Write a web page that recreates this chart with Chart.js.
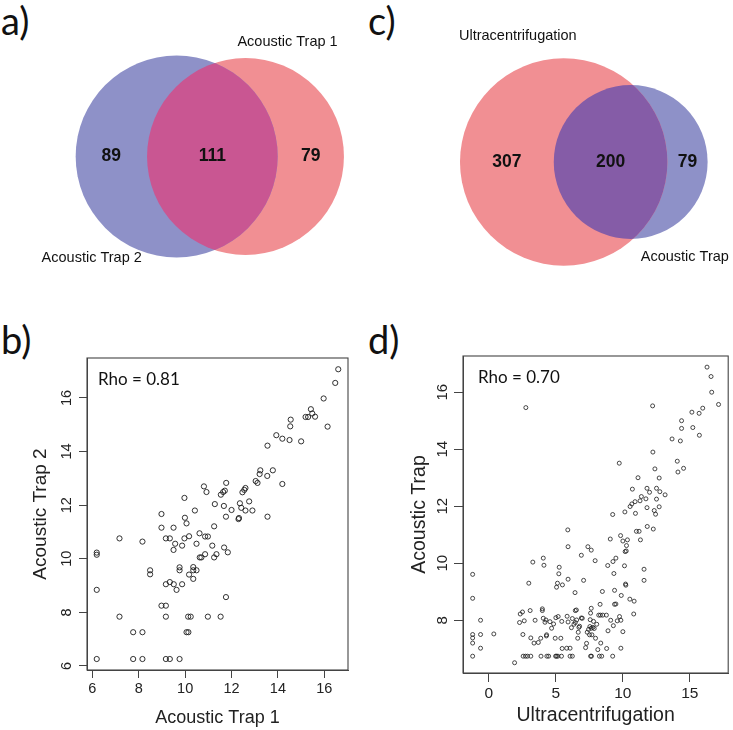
<!DOCTYPE html>
<html>
<head>
<meta charset="utf-8">
<title>Acoustic trap vs ultracentrifugation</title>
<script src="https://cdn.jsdelivr.net/npm/chart.js@4.4.1/dist/chart.umd.min.js"></script>
<style>
  body { margin: 0; background: #fff; width: 733px; height: 730px; position: relative; overflow: hidden; }
  canvas { position: absolute; }
  .tag { position: absolute; font-family: Lato, "Open Sans", sans-serif; font-size: 38px; line-height: 1; color: #111; }
</style>
</head>
<body>
<div class="tag" style="left:1px;top:1px">a)</div>
<div class="tag" style="left:368px;top:1px">c)</div>
<div class="tag" style="left:1px;top:320px">b)</div>
<div class="tag" style="left:368px;top:320px">d)</div>

<canvas id="venn-a" width="366" height="290" style="left:0;top:0"></canvas>
<canvas id="venn-c" width="367" height="290" style="left:366px;top:0"></canvas>
<canvas id="scatter-b" width="366" height="400" style="left:0;top:330px"></canvas>
<canvas id="scatter-d" width="367" height="400" style="left:366px;top:330px"></canvas>

<script>
// ==================
//  DATOS
// ==================
// a) Venn: [izquierda, derecha]
const vennANames = ["Acoustic Trap 2", "Acoustic Trap 1"];
const vennAOnly = [89, 79];
const vennABoth = 111;

// c) Venn: [izquierda, derecha]
const vennCNames = ["Ultracentrifugation", "Acoustic Trap"];
const vennCOnly = [307, 79];
const vennCBoth = 200;

// b) Acoustic Trap 1 vs Acoustic Trap 2
const trap1 = [
  16.6, 16.47, 15.97, 16.14, 15.42, 15.19, 15.3, 15.48, 15.6, 14.55,
  14.53, 14.5, 15.0, 14.19, 13.93, 13.55, 13.24, 13.21, 13.78, 13.54,
  14.19, 13.04, 13.12, 13.55, 12.6, 12.55, 12.47, 12.76, 12.36, 12.42,
  12.6, 12.9, 12.32, 12.3, 12.0, 11.76, 11.77, 11.71, 11.64, 11.54,
  11.67, 11.28, 10.81, 10.92, 10.42, 9.97, 9.99, 10.06, 8.98, 8.98,
  9.5, 9.17, 9.34, 9.57, 9.5, 9.87, 9.97, 10.17, 10.49, 10.62,
  10.86, 10.98, 11.25, 11.17, 10.63, 10.7, 10.86, 11.25, 11.35, 11.68,
  11.84, 7.17, 8.16, 6.19, 6.19, 6.19, 8.49, 8.49, 9.76, 9.76,
  10.35, 10.35, 10.49, 10.17, 10.35, 9.17, 9.34, 9.51, 9.63, 9.87,
  11.76, 8.98, 9.17, 7.17, 9.17, 10.13, 10.24, 10.98, 11.53, 7.76,
  8.16, 10.06, 10.14, 6.19, 7.76, 8.16, 9.17, 9.34, 9.76
];
const trap2 = [
  17.07, 16.56, 15.98, 14.93, 15.58, 15.29, 15.29, 15.42, 15.3, 15.19,
  14.94, 14.43, 14.38, 14.48, 14.61, 14.22, 13.3, 13.16, 13.3, 13.09,
  12.79, 12.9, 12.83, 11.57, 12.64, 12.57, 12.48, 12.14, 12.07, 11.9,
  11.8, 11.8, 11.52, 11.48, 11.82, 11.57, 12.83, 12.54, 12.49, 12.39,
  11.97, 12.04, 12.7, 12.49, 11.8, 12.27, 11.53, 11.32, 11.67, 11.16,
  11.16, 10.76, 10.76, 10.56, 10.33, 10.49, 10.76, 10.84, 10.56, 10.95,
  10.83, 10.83, 11.21, 10.49, 10.05, 10.05, 10.17, 10.05, 10.17, 10.42,
  10.24, 10.76, 10.64, 10.23, 10.15, 8.84, 9.57, 9.42, 9.68, 9.57,
  9.69, 9.57, 9.57, 9.41, 9.25, 9.05, 9.13, 9.05, 8.84, 9.05,
  8.57, 8.25, 8.25, 7.84, 7.84, 7.84, 7.84, 7.84, 7.84, 7.26,
  7.26, 7.26, 7.26, 6.26, 6.26, 6.26, 6.26, 6.26, 6.26
];
const rhoB = "0.81";
const bXTicks = [6, 8, 10, 12, 14, 16];
const bYTicks = [6, 8, 10, 12, 14, 16];

// d) Ultracentrifugation vs Acoustic Trap
const ultra = [
  16.28, 16.58, 16.63, 17.14, 15.96, 15.69, 15.15, 15.22, 15.71, 14.38,
  14.38, 14.29, 13.67, 14.06, 14.11, 14.53, 12.22, 2.76, 12.24, 9.73,
  12.39, 12.71, 11.13, 10.71, 11.8, 12.51, 11.99, 12.76, 13.15, 11.38,
  11.28, 10.91, 10.67, 10.54, 11.72, 12.51, 11.8, 12.71, 12.34, 12.44,
  10.94, 10.15, 9.24, 11.82, 12.27, 11.01, 11.21, 11.31, 9.06, 9.83,
  10.0, 10.34, 10.27, 10.17, 10.25, 5.89, 5.91, 7.39, 7.64, 7.93,
  6.9, 9.48, 9.26, 8.87, 10.12, 9.33, 4.06, 4.11, 3.28, 5.25,
  5.22, 2.98, 5.12, 5.49, 5.05, 5.91, 7.07, 6.43, 8.47, 10.2,
  10.22, 11.58, 11.58, 9.38, 9.88, 9.38, 9.48, 10.52, 10.84, 10.81,
  8.3, 7.64, 7.59, 8.33, 8.2, 8.5, 8.77, 6.53, 6.97, 6.9,
  7.56, 7.81, 8.05, 7.54, 7.76, 7.86, 7.44, 7.64, 7.34, 7.51,
  7.69, 7.96, 8.35, 8.13, 7.66, 7.59, 8.42, 8.25, 8.79, 9.24,
  9.85, 10.0, 9.75, 9.85, 9.58, 9.09, 8.89, 9.29, 7.22, 7.29,
  6.63, 6.67, 6.77, 6.72, 6.45, 6.35, 6.23, 6.55, 5.91, 5.84,
  6.16, 6.45, 5.44, 5.17, 5.0, 4.83, 4.68, 4.56, 4.19, 4.26,
  4.31, 3.99, 3.99, 4.06, 3.45, 3.08, 2.51, 2.34, 2.64, 2.29,
  2.54, 3.13, 3.37, 3.69, 3.87, 4.29, 4.95, 5.37, 5.47, 5.81,
  6.06, 1.92, 0.37, -0.62, -0.62, -0.62, -1.21, -1.21, -1.21, -1.21,
  -1.21, -1.21, 2.56, 2.73, 2.88, 3.13, 3.89, 4.33, 4.46, 4.98,
  5.05, 5.15, 5.42, 6.06, 6.23
];
const trapD = [
  16.88, 16.55, 16.0, 15.57, 15.44, 15.26, 15.3, 14.76, 14.49, 15.0,
  14.73, 14.29, 14.36, 13.58, 13.2, 13.33, 15.52, 15.46, 13.9, 13.51,
  13.31, 12.99, 13.0, 12.6, 12.63, 12.63, 12.49, 12.51, 12.4, 12.34,
  12.19, 12.16, 12.08, 11.99, 12.26, 12.25, 11.95, 11.98, 11.85, 11.72,
  11.75, 11.8, 11.71, 11.29, 11.2, 11.12, 11.12, 10.82, 10.85, 10.97,
  10.78, 10.82, 10.62, 10.41, 10.43, 11.17, 10.58, 10.58, 10.46, 10.09,
  10.28, 10.18, 10.06, 9.92, 9.91, 9.64, 10.18, 9.93, 10.04, 9.86,
  9.63, 9.3, 9.3, 9.24, 9.16, 9.44, 9.4, 8.97, 9.01, 9.27,
  9.23, 9.79, 9.4, 9.05, 8.87, 8.56, 8.57, 8.74, 8.67, 8.22,
  8.56, 8.42, 8.25, 8.18, 8.18, 8.18, 8.18, 8.36, 8.07, 8.08,
  8.02, 7.96, 7.86, 7.78, 7.75, 7.71, 7.68, 7.72, 7.58, 7.49,
  7.49, 7.37, 7.2, 6.97, 6.74, 6.74, 6.74, 6.74, 7.01, 6.74,
  7.02, 7.6, 8.13, 8.0, 7.98, 8.0, 7.63, 7.81, 7.04, 7.19,
  7.37, 7.58, 7.79, 7.75, 7.92, 7.86, 8.06, 8.01, 7.94, 8.14,
  7.74, 8.34, 7.96, 8.13, 8.09, 7.87, 7.72, 7.95, 7.93, 8.01,
  7.49, 8.34, 8.4, 8.07, 8.0, 8.34, 8.29, 8.22, 7.98, 7.92,
  7.5, 7.38, 7.2, 7.22, 7.37, 7.45, 7.37, 7.37, 7.01, 7.02,
  7.02, 6.51, 7.52, 8.0, 7.5, 7.02, 9.61, 8.77, 7.5, 7.38,
  7.2, 6.74, 6.74, 6.74, 6.74, 6.74, 6.74, 6.74, 6.74, 6.74,
  6.74, 6.74, 6.74, 6.74, 6.74
];
const rhoD = "0.70";
const dXTicks = [0, 5, 10, 15];
const dYTicks = [8, 10, 12, 14, 16];

// ==================
//  ESTILO
// ==================
const R_FONT = '"Liberation Sans", Arial, sans-serif';
const LABEL_FONT = 'Lato, "Open Sans", sans-serif';
const BLUE = "#8e91c8";
const RED = "#f18f93";

// ==================
//  VENN
// ==================
function lensArea(r1, r2, d) {
  if (d >= r1 + r2) return 0;
  if (d <= Math.abs(r1 - r2)) return Math.PI * Math.min(r1, r2) ** 2;
  const a1 = Math.acos((d * d + r1 * r1 - r2 * r2) / (2 * d * r1));
  const a2 = Math.acos((d * d + r2 * r2 - r1 * r1) / (2 * d * r2));
  const k = Math.sqrt((-d + r1 + r2) * (d + r1 - r2) * (d - r1 + r2) * (d + r1 + r2));
  return r1 * r1 * a1 + r2 * r2 * a2 - k / 2;
}

// area-proportional circles: radius ~ sqrt(set size), overlap area ~ shared count
function vennGeometry(only, both, rMax, cx) {
  const n1 = only[0] + both;
  const n2 = only[1] + both;
  const unit = rMax / Math.sqrt(Math.max(n1, n2));
  const r1 = unit * Math.sqrt(n1);
  const r2 = unit * Math.sqrt(n2);
  const target = Math.PI * unit * unit * both;
  let lo = Math.abs(r1 - r2), hi = r1 + r2;
  for (let i = 0; i < 60; i++) {
    const mid = (lo + hi) / 2;
    if (lensArea(r1, r2, mid) > target) lo = mid; else hi = mid;
  }
  const d = (lo + hi) / 2;
  const x1 = cx - (r1 + d + r2) / 2 + r1;
  return { r1, r2, x1, x2: x1 + d };
}

const vennPlugin = {
  id: "venn",
  afterDatasetsDraw(chart) {
    const o = chart.options.plugins.venn;
    const e1 = chart.getDatasetMeta(0).data[0];
    const e2 = chart.getDatasetMeta(1).data[0];
    const r1 = e1.options.radius, r2 = e2.options.radius;
    const ctx = chart.ctx;
    // zona común
    ctx.save();
    ctx.beginPath();
    ctx.arc(e1.x, e1.y, r1, 0, Math.PI * 2);
    ctx.clip();
    ctx.beginPath();
    ctx.arc(e2.x, e2.y, r2, 0, Math.PI * 2);
    ctx.fillStyle = o.overlapColor;
    ctx.fill();
    ctx.restore();

    // cantidades en el centro de cada zona
    const l1 = e1.x - r1, l2 = e2.x - r2, rt1 = e1.x + r1, rt2 = e2.x + r2;
    const cy = e1.y;
    ctx.save();
    ctx.fillStyle = "#111";
    ctx.textAlign = "center";
    ctx.textBaseline = "middle";
    ctx.font = `bold 17.5px ${R_FONT}`;
    ctx.fillText(String(o.only[0]), (l1 + l2) / 2, cy);
    ctx.fillText(String(o.both), (l2 + rt1) / 2, cy);
    ctx.fillText(String(o.only[1]), (rt1 + rt2) / 2, cy);
    // nombres de los conjuntos
    ctx.font = `14.5px ${R_FONT}`;
    o.names.forEach((n, i) => ctx.fillText(n, o.namePos[i][0], o.namePos[i][1]));
    ctx.restore();
  }
};

function makeVenn(id, names, only, both, colors, overlapColor, layout) {
  const canvas = document.getElementById(id);
  const g = vennGeometry(only, both, layout.rMax, layout.cx);
  return new Chart(canvas, {
    type: "bubble",
    data: {
      datasets: [
        { label: names[0], data: [{ x: g.x1, y: layout.cy, r: g.r1 }], backgroundColor: colors[0], borderWidth: 0, clip: false },
        { label: names[1], data: [{ x: g.x2, y: layout.cy, r: g.r2 }], backgroundColor: colors[1], borderWidth: 0, clip: false }
      ]
    },
    options: {
      responsive: false,
      animation: false,
      events: [],
      layout: { padding: 0, autoPadding: false },
      scales: {
        x: { display: false, min: 0, max: canvas.width },
        y: { display: false, min: 0, max: canvas.height, reverse: true }
      },
      plugins: {
        legend: { display: false },
        tooltip: { enabled: false },
        venn: { names, only, both, overlapColor, namePos: layout.namePos }
      }
    },
    plugins: [vennPlugin]
  });
}

// ==================
//  DISPERSIÓN
// ==================
const boxPlugin = {
  id: "rbox",
  afterDraw(chart) {
    const { ctx, chartArea: a } = chart;
    ctx.save();
    ctx.strokeStyle = "#444";
    ctx.lineWidth = 1.1;
    ctx.strokeRect(a.left, a.top, a.right - a.left, a.bottom - a.top);
    ctx.fillStyle = "#111";
    ctx.font = `17px ${LABEL_FONT}`;
    ctx.textBaseline = "middle";
    ctx.fillText(chart.options.plugins.rbox.text, a.left + chart.options.plugins.rbox.dx, a.top + 22);
    ctx.restore();
  }
};

function axisOptions(a, vertical) {
  return {
    type: "linear",
    min: a.min,
    max: a.max,
    afterBuildTicks: (axis) => { axis.ticks = a.ticks.map((v) => ({ value: v })); },
    afterFit: (axis) => { if (vertical) axis.width = a.size; else axis.height = a.size; },
    ticks: {
      font: { family: R_FONT, size: a.tickSize },
      color: "#222",
      padding: a.tickPad,
      minRotation: vertical ? 90 : 0,
      maxRotation: vertical ? 90 : 0,
      crossAlign: vertical ? "center" : "near"
    },
    grid: { drawOnChartArea: false, drawTicks: true, tickLength: a.tickLen, color: "#444", lineWidth: 1 },
    border: { display: true, color: "#444", width: 1 },
    title: { display: true, text: a.title, font: { family: R_FONT, size: a.titleSize }, color: "#222", padding: a.titlePad }
  };
}

function makeScatter(id, xs, ys, rho, cfg) {
  const points = xs.map((x, i) => ({ x, y: ys[i] }));
  return new Chart(document.getElementById(id), {
    type: "scatter",
    data: {
      datasets: [{
        data: points,
        pointStyle: "circle",
        pointRadius: cfg.pointRadius,
        borderColor: "#1c1c1c",
        borderWidth: cfg.pointBorder,
        backgroundColor: "rgba(0,0,0,0)"
      }]
    },
    options: {
      responsive: false,
      animation: false,
      events: [],
      layout: { padding: cfg.padding },
      plugins: {
        legend: { display: false },
        tooltip: { enabled: false },
        rbox: { text: `Rho = ${rho}`, dx: cfg.rhoDx }
      },
      scales: {
        x: axisOptions(cfg.x, false),
        y: axisOptions(cfg.y, true)
      }
    },
    plugins: [boxPlugin]
  });
}

// ==================
//  INICIO
// ==================
makeVenn("venn-a", vennANames, vennAOnly, vennABoth, [BLUE, RED], "#c95692", {
  rMax: 101, cx: 209.8, cy: 156.5,
  namePos: [[91.7, 258], [287.5, 41.5]]
});
makeVenn("venn-c", vennCNames, vennCOnly, vennCBoth, [RED, BLUE], "#855ca7", {
  rMax: 103.7, cx: 217.8, cy: 162,
  namePos: [[151.8, 36], [318.8, 256.5]]
});

makeScatter("scatter-b", trap1, trap2, rhoB, {
  pointRadius: 2.6, pointBorder: 0.9, rhoDx: 11,
  padding: { top: 28, right: 18, left: 0, bottom: 0 },
  x: { min: 5.77, max: 17.02, ticks: bXTicks, size: 60, tickSize: 14.5, tickPad: 2, tickLen: 8,
       title: "Acoustic Trap 1", titleSize: 18, titlePad: { top: 0, bottom: 1 } },
  y: { min: 5.85, max: 17.49, ticks: bYTicks, size: 87, tickSize: 14.5, tickPad: 4, tickLen: 8,
       title: "Acoustic Trap 2", titleSize: 19, titlePad: { top: 29, bottom: 0 } }
});

makeScatter("scatter-d", ultra, trapD, rhoD, {
  pointRadius: 2, pointBorder: 0.8, rhoDx: 15,
  padding: { top: 26, right: 3, left: 0, bottom: 0 },
  x: { min: -1.93, max: 17.86, ticks: dXTicks, size: 57, tickSize: 15.5, tickPad: 2, tickLen: 9,
       title: "Ultracentrifugation", titleSize: 19.5, titlePad: { top: 0, bottom: 3 } },
  y: { min: 6.15, max: 17.27, ticks: dYTicks, size: 97, tickSize: 15, tickPad: 2.5, tickLen: 9,
       title: "Acoustic Trap", titleSize: 19.5, titlePad: { top: 42, bottom: 0 } }
});
</script>
</body>
</html>
